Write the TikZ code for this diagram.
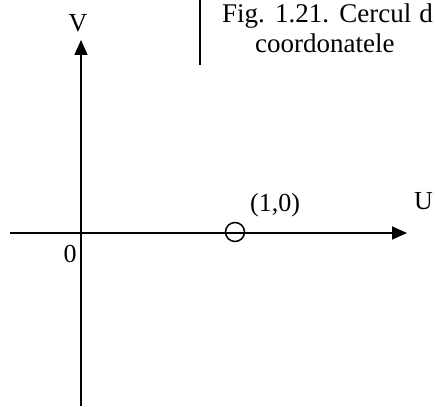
\documentclass[tikz,border=0pt]{standalone}
\usepackage{fontspec}
\setmainfont{Liberation Serif}
\usetikzlibrary{positioning}
\usetikzlibrary{arrows.meta}

\begin{document}
\begin{tikzpicture}[
        x=1pt, y=1pt,
        axisline/.style={line width=1.7pt, -{Triangle[length=15pt, width=13pt]}},
        labeltext/.style={inner sep=0pt, font=\fontsize{26}{30}\selectfont},
        captiontext/.style={inner sep=0pt, anchor=base west, font=\fontsize{27}{30}\selectfont},
        markcircle/.style={circle, draw=black, line width=1.5pt, minimum size=19pt, inner sep=0pt},
    ]
    \useasboundingbox (0,0) rectangle (435,406);

    % Objects
    \coordinate (uStart) at (10,173);
    \coordinate (uEnd) at (407,173);
    \coordinate (vStart) at (81,0);
    \coordinate (vEnd) at (81,366);
    \coordinate (barTop) at (200,406);
    \coordinate (barBottom) at (200,341);
    \node[markcircle] (unitPoint) at (235,174) {};
    \node[labeltext, anchor=base] (unitLabel) at (275,194) {(1,0)};
    \node[labeltext, anchor=base west] (uLabel) at (414,196) {U};
    \node[labeltext, anchor=base] (vLabel) at (78,374) {V};
    \node[labeltext, anchor=base] (zeroLabel) at (70,143) {0};
    \node[captiontext] (captionOne) at (222,383) {\spaceskip=8pt Fig. 1.21. Cercul d};
    \node[captiontext] (captionTwo) at (255,353) {coordonatele};

    % Lines
    \draw[axisline] (uStart) -- (uEnd);
    \draw[axisline] (vStart) -- (vEnd);
    \draw[line width=1.5pt] (barTop) -- (barBottom);

\end{tikzpicture}
\end{document}
